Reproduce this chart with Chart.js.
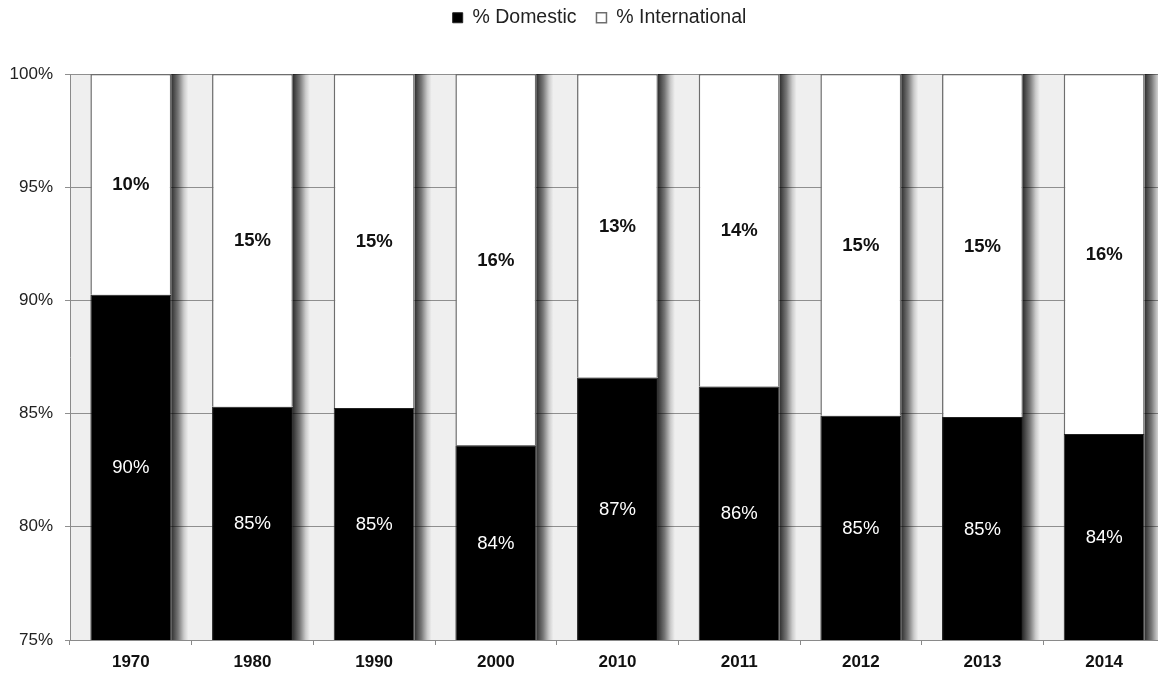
<!DOCTYPE html>
<html>
<head>
<meta charset="utf-8">
<script src="https://cdn.jsdelivr.net/npm/chart.js@4"></script>
<style>
  html, body { margin: 0; padding: 0; background: #ffffff; overflow: hidden; }
  #wrap { position: relative; width: 1165px; height: 673px; }
</style>
</head>
<body>
<div id="wrap"><canvas id="c"></canvas></div>
<script>
const categories = ['1970', '1980', '1990', '2000', '2010', '2011', '2012', '2013', '2014'];
const domestic = [90.25, 85.3, 85.25, 83.6, 86.6, 86.2, 84.9, 84.85, 84.1];
const international = [9.75, 14.7, 14.75, 16.4, 13.4, 13.8, 15.1, 15.15, 15.9];
const seriesNames = ['% Domestic', '% International'];
const yMin = 75, yMax = 100, yStep = 5;

const FONT = "'Liberation Sans', Arial, Helvetica, sans-serif";

const legendGap = {
  id: 'legendGap',
  beforeLayout(chart) {
    const lg = chart.legend;
    if (lg && !lg._gapWrapped) {
      const f = lg.fit;
      lg.fit = function () { f.call(this); this.height = 74; };
      const d = lg.draw;
      lg.draw = function () {
        const ctx = this.ctx;
        ctx.save();
        ctx.translate(17, -12);
        d.call(this);
        ctx.restore();
      };
      lg._gapWrapped = true;
    }
  }
};

const plotBackground = {
  id: 'plotBackground',
  beforeDraw(chart) {
    const { ctx, chartArea: a } = chart;
    ctx.save();
    ctx.fillStyle = '#efefef';
    ctx.fillRect(a.left, a.top, a.right - a.left, a.bottom - a.top);
    ctx.restore();
  }
};

const barShadow = {
  id: 'barShadow',
  beforeDatasetsDraw(chart) {
    const { ctx, chartArea: a } = chart;
    const top = chart.getDatasetMeta(1);
    ctx.save();
    ctx.beginPath();
    ctx.rect(a.left, a.top, a.right - a.left, a.bottom - a.top);
    ctx.clip();
    top.data.forEach(el => {
      const p = el.getProps(['x', 'y', 'width'], true);
      const right = p.x + p.width / 2;
      const y0 = Math.max(p.y, a.top);
      const w = 17;
      const g = ctx.createLinearGradient(right, 0, right + w, 0);
      g.addColorStop(0, 'rgba(0,0,0,0.8)');
      g.addColorStop(0.4, 'rgba(0,0,0,0.5)');
      g.addColorStop(0.75, 'rgba(0,0,0,0.15)');
      g.addColorStop(1, 'rgba(0,0,0,0)');
      ctx.fillStyle = g;
      ctx.fillRect(right, y0, w, a.bottom - y0);
    });
    ctx.restore();
  }
};

const segmentLabels = {
  id: 'segmentLabels',
  afterDatasetsDraw(chart) {
    const { ctx, chartArea: a } = chart;
    ctx.save();
    ctx.textAlign = 'center';
    ctx.textBaseline = 'middle';
    chart.data.datasets.forEach((ds, di) => {
      const meta = chart.getDatasetMeta(di);
      meta.data.forEach((el, i) => {
        const p = el.getProps(['x', 'y', 'base'], true);
        const t = Math.max(Math.min(p.y, p.base), a.top);
        const b = Math.min(Math.max(p.y, p.base), a.bottom);
        if (b <= t) return;
        ctx.fillStyle = di === 0 ? '#ffffff' : '#111111';
        ctx.font = (di === 0 ? 'normal ' : 'bold ') + '18.5px ' + FONT;
        ctx.fillText(Math.round(ds.data[i]) + '%', p.x, (t + b) / 2 + 1);
      });
    });
    ctx.restore();
  }
};

new Chart(document.getElementById('c'), {
  type: 'bar',
  data: {
    labels: categories,
    datasets: [
      {
        label: seriesNames[0],
        data: domestic,
        backgroundColor: '#000000',
        borderColor: '#222222',
        borderWidth: 1,
        categoryPercentage: 1.0,
        barPercentage: 0.665
      },
      {
        label: seriesNames[1],
        data: international,
        backgroundColor: '#ffffff',
        borderColor: '#6e6e6e',
        borderWidth: 1.5,
        categoryPercentage: 1.0,
        barPercentage: 0.665
      }
    ]
  },
  options: {
    responsive: true,
    maintainAspectRatio: false,
    animation: false,
    layout: { padding: { top: 0, right: 0, bottom: 0, left: 0 } },
    plugins: {
      tooltip: { enabled: false },
      legend: {
        position: 'top',
        labels: {
          boxWidth: 10,
          boxHeight: 10,
          padding: 20,
          color: '#222222',
          font: { family: FONT, size: 19.5 }
        }
      }
    },
    scales: {
      x: {
        stacked: true,
        grid: {
          offset: true,
          drawOnChartArea: false,
          drawTicks: true,
          tickLength: 5,
          color: '#8a8a8a'
        },
        border: { display: true, color: '#8a8a8a', width: 1 },
        ticks: {
          color: '#111111',
          padding: 7,
          font: { family: FONT, size: 17, weight: 'bold' }
        },
        afterFit(s) { s.height = 33; }
      },
      y: {
        stacked: true,
        min: yMin,
        max: yMax,
        grid: {
          color: '#8f8f8f',
          lineWidth: 1,
          drawTicks: true,
          tickLength: 5
        },
        border: { display: true, color: '#8a8a8a', width: 1 },
        ticks: {
          stepSize: yStep,
          color: '#222222',
          padding: 12,
          font: { family: FONT, size: 17 },
          callback: v => v + '%'
        },
        afterFit(s) { s.width = 70; }
      }
    }
  },
  plugins: [legendGap, plotBackground, barShadow, segmentLabels]
});
</script>
</body>
</html>
